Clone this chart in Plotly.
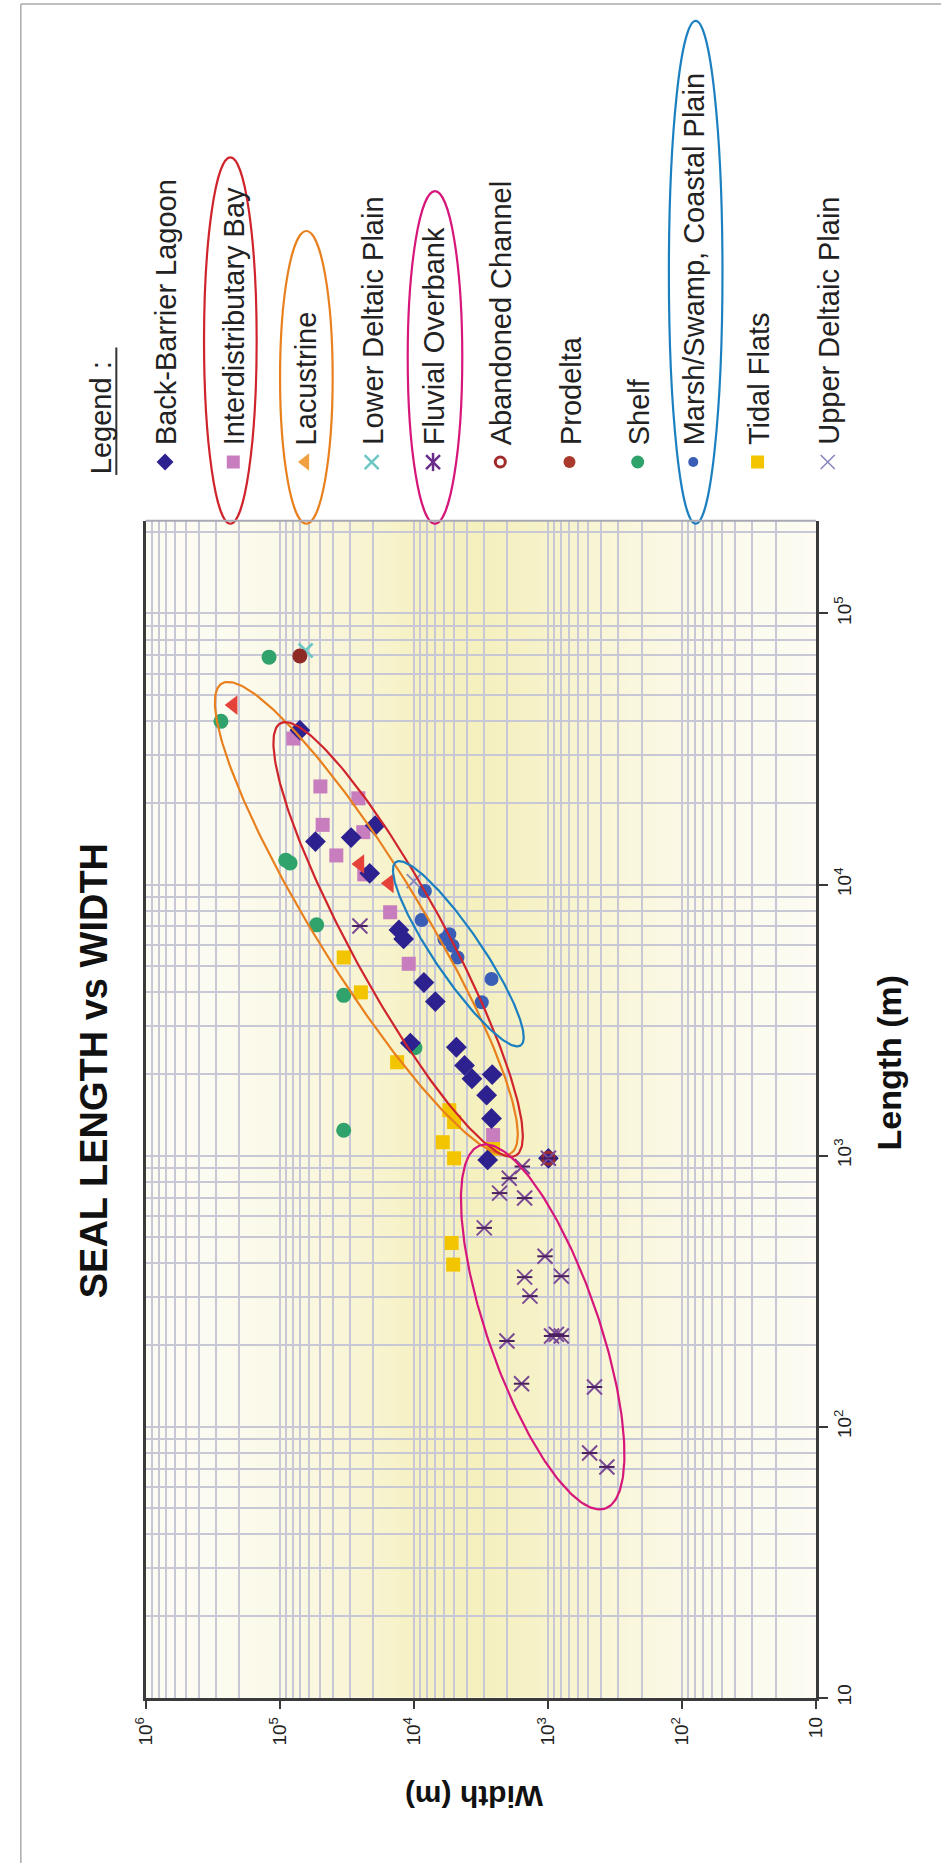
import numpy as np
import plotly.graph_objects as go

# ---------------- data ----------------
BBL_W = [7.07e4, 5.41e4, 2.93e4, 1.94e4, 2.13e4, 1.29e4, 1.19e4, 8.4e3, 6.9e3, 1.06e4,
         4.81e3, 4.18e3, 3.68e3, 2.60e3, 2.86e3, 2.63e3, 2.81e3, 9.9e2]
BBL_L = [3.71e4, 1.44e4, 1.49e4, 1.65e4, 1.10e4, 6.8e3, 6.3e3, 4.35e3, 3.7e3, 2.6e3,
         2.51e3, 2.15e3, 1.92e3, 1.99e3, 1.67e3, 1.37e3, 9.64e2, 9.77e2]

IB_W = [7.9e4, 4.97e4, 2.59e4, 4.78e4, 2.38e4, 3.78e4, 2.34e4, 1.50e4, 1.09e4, 2.56e3]
IB_L = [3.46e4, 2.3e4, 2.08e4, 1.66e4, 1.56e4, 1.28e4, 1.09e4, 7.9e3, 5.1e3, 1.19e3]

LAC_W = [2.22e5, 2.52e4, 1.52e4]
LAC_L = [4.59e4, 1.19e4, 1.01e4]

LDP_W = [6.4e4]
LDP_L = [7.3e4]

FO_W = [2.52e4, 1.55e3, 1.94e3, 2.29e3, 1.49e3, 2.98e3, 1.05e3, 1.49e3, 7.93e2, 1.36e3,
        2.02e3, 9.38e2, 8.63e2, 7.93e2, 1.57e3, 4.49e2, 4.88e2, 3.63e2, 9.9e2]
FO_L = [7.03e3, 9.11e2, 8.25e2, 7.27e2, 6.97e2, 5.41e2, 4.25e2, 3.56e2, 3.59e2, 3.03e2,
        2.07e2, 2.16e2, 2.19e2, 2.16e2, 1.44e2, 1.40e2, 7.99e1, 7.1e1, 9.77e2]

AC_W = [9.9e2]
AC_L = [9.77e2]

PD_W = [7.07e4]
PD_L = [6.97e4]

SH_W = [1.20e5, 2.74e5, 8.36e4, 9.0e4, 5.3e4, 3.33e4, 9.8e3, 3.33e4]
SH_L = [6.9e4, 4.0e4, 1.2e4, 1.23e4, 7.1e3, 3.9e3, 2.5e3, 1.24e3]

MS_W = [8.26e3, 8.73e3, 5.43e3, 5.14e3, 4.72e3, 5.9e3, 2.63e3, 3.11e3]
MS_L = [9.46e3, 7.4e3, 6.55e3, 5.94e3, 5.38e3, 6.28e3, 4.48e3, 3.68e3]

TF_W = [3.33e4, 2.48e4, 1.33e4, 5.43e3, 5.0e3, 6.08e3, 5.0e3, 2.56e3, 5.22e3, 5.08e3]
TF_L = [5.38e3, 4.0e3, 2.21e3, 1.47e3, 1.33e3, 1.12e3, 9.77e2, 1.06e3, 4.76e2, 3.96e2]

UDP_W = [1.0e4]
UDP_L = [1.03e4]

LEG_LABELS = ["Back-Barrier Lagoon", "Interdistributary Bay", "Lacustrine",
              "Lower Deltaic Plain", "Fluvial Overbank", "Abandoned Channel",
              "Prodelta", "Shelf", "Marsh/Swamp, Coastal Plain", "Tidal Flats",
              "Upper Deltaic Plain"]

TICK_VALS = [10, 1e2, 1e3, 1e4, 1e5, 1e6]
TICK_TEXT = ["10", "10<sup>2</sup>", "10<sup>3</sup>", "10<sup>4</sup>",
             "10<sup>5</sup>", "10<sup>6</sup>"]

# group ellipses: (width tip1, length tip1, width tip2, length tip2)
ELL_LAC = (2.71e5, 5.51e4, 1.88e3, 1.02e3)
ELL_IB = (9.89e4, 3.93e4, 1.73e3, 1.00e3)
ELL_MS = (1.36e4, 1.21e4, 1.59e3, 2.55e3)
ELL_FO = (3.21e3, 1.09e3, 3.72e2, 4.99e1)

# background tint profile across width
BG_LOGW = [1.0, 1.5, 2.0, 2.5, 3.0, 3.5, 4.0, 4.4, 5.0, 5.5, 6.0]
BG_LEVEL = [0.05, 0.12, 0.28, 0.5, 0.78, 1.0, 0.88, 0.62, 0.25, 0.08, 0.02]

# ---------------- layout geometry (pixels) ----------------
FIG_W, FIG_H = 942, 1863
P_L, P_R, P_T, P_B = 135, 823, 523, 1705     # plot area edges
PLOT_W = P_R - P_L
PLOT_H = P_B - P_T
X_RANGE = [6, 1]        # log10(width), reversed
Y_RANGE = [1, 5.342]    # log10(length)
FONT = "Liberation Sans, Arial, sans-serif"
GRID = "#C7C7D6"
AXC = "#3a3a3a"
DOM_X = [P_L / FIG_W, P_R / FIG_W]
DOM_Y = [1 - P_B / FIG_H, 1 - P_T / FIG_H]


def pxx(px):
    return px / FIG_W


def pxy(py):
    return 1 - py / FIG_H


def w_to_px(w):
    return P_L + (X_RANGE[0] - np.log10(w)) * PLOT_W / abs(X_RANGE[0] - X_RANGE[1])


fig = go.Figure()

# ---- background subplot (xy): pixel axes over the plot area ----
bg_x = [w_to_px(10 ** v) for v in BG_LOGW]
fig.add_trace(go.Heatmap(x=bg_x, y=[P_T, P_B], z=[BG_LEVEL, BG_LEVEL], zsmooth="best",
                         zmin=0, zmax=1, showscale=False, hoverinfo="skip",
                         colorscale=[[0, "rgb(253,252,245)"], [1, "rgb(245,240,190)"]],
                         xaxis="x", yaxis="y"))


# ---- data subplot (x2y2) ----
def sc(x, y, symbol, color, size, lw=0, lcolor=None):
    return go.Scatter(x=x, y=y, mode="markers", showlegend=False, hoverinfo="skip",
                      xaxis="x2", yaxis="y2",
                      marker=dict(symbol=symbol, color=color, size=size,
                                  line=dict(width=lw, color=lcolor or color)))


fig.add_trace(sc(LDP_W, LDP_L, "x-thin", "#6CC7C4", 14, 2.5))
fig.add_trace(sc(UDP_W, UDP_L, "x-thin", "#8585BB", 14, 1.8))
fig.add_trace(sc(SH_W, SH_L, "circle", "#2FA36B", 15))
fig.add_trace(sc(PD_W, PD_L, "circle", "#8E2A26", 15))
fig.add_trace(sc(TF_W, TF_L, "square", "#F3C400", 14))
fig.add_trace(sc(IB_W, IB_L, "square", "#C77DBE", 14))
fig.add_trace(sc(BBL_W, BBL_L, "diamond", "#2D2190", 16))
fig.add_trace(sc(MS_W, MS_L, "circle", "#3A5DB5", 14))
fig.add_trace(sc(LAC_W, LAC_L, "triangle-left", "#E5433A", 17))
fig.add_trace(sc(AC_W, AC_L, "circle-open", "#9E2A2A", 12, 3))
fig.add_trace(sc(FO_W, FO_L, "x-thin", "#7B4A94", 15, 2))
fig.add_trace(sc(FO_W, FO_L, "line-ew", "#4A2060", 11, 2))


def ellipse(tips, b_px, n=260):
    kx = PLOT_W / abs(X_RANGE[0] - X_RANGE[1])
    ky = PLOT_H / (Y_RANGE[1] - Y_RANGE[0])
    w1, l1, w2, l2 = tips
    p1 = np.array([(X_RANGE[0] - np.log10(w1)) * kx, (np.log10(l1) - Y_RANGE[0]) * ky])
    p2 = np.array([(X_RANGE[0] - np.log10(w2)) * kx, (np.log10(l2) - Y_RANGE[0]) * ky])
    c = (p1 + p2) / 2
    d = p2 - p1
    a = np.linalg.norm(d) / 2
    u = d / np.linalg.norm(d)
    v = np.array([-u[1], u[0]])
    t = np.linspace(0, 2 * np.pi, n)
    pts = c[:, None] + np.outer(u, a * np.cos(t)) + np.outer(v, b_px * np.sin(t))
    xs = 10 ** (X_RANGE[0] - pts[0] / kx)
    ys = 10 ** (Y_RANGE[0] + pts[1] / ky)
    return xs, ys


for tips, b, col in [(ELL_LAC, 54, "#E8801E"), (ELL_IB, 48, "#D0242C"),
                     (ELL_MS, 24, "#1C80C0"), (ELL_FO, 57, "#D6167A")]:
    ex, ey = ellipse(tips, b)
    fig.add_trace(go.Scatter(x=ex, y=ey, mode="lines", showlegend=False, hoverinfo="skip",
                             xaxis="x2", yaxis="y2", line=dict(color=col, width=2.2)))

# ---- legend subplot (x3y3): full-figure pixel axes ----
LEG_X = [155, 225, 299, 367, 430, 499, 570, 640, 697, 763, 835]
LEG_MARK_Y = 464
LEG_TEXT_Y = 449
leg_sym = ["diamond", "square", "triangle-left", "x-thin", "x-thin", "circle-open",
           "circle", "circle", "circle", "square", "x-thin"]
leg_col = ["#2D2190", "#C77DBE", "#F0A040", "#6CC7C4", "#6A2D8A", "#9E2A2A",
           "#A93A2C", "#2FA36B", "#3A5DB5", "#F3C400", "#8585BB"]
leg_size = [13, 13, 15, 14, 14, 10, 12, 13, 10, 13, 14]
leg_lw = [0, 0, 0, 2.5, 2.5, 3, 0, 0, 0, 0, 1.5]
for i in range(len(LEG_LABELS)):
    fig.add_trace(go.Scatter(x=[LEG_X[i]], y=[LEG_MARK_Y], xaxis="x3", yaxis="y3",
                             mode="markers", showlegend=False, hoverinfo="skip",
                             marker=dict(symbol=leg_sym[i], color=leg_col[i], size=leg_size[i],
                                         line=dict(width=leg_lw[i], color=leg_col[i]))))
fig.add_trace(go.Scatter(x=[LEG_X[4]], y=[LEG_MARK_Y], xaxis="x3", yaxis="y3",
                         mode="markers", showlegend=False, hoverinfo="skip",
                         marker=dict(symbol="line-ns", size=13,
                                     line=dict(width=2.5, color="#6A2D8A"))))

annotations = []
shapes = []
for i, lab in enumerate(LEG_LABELS):
    annotations.append(dict(text=lab, xref="paper", yref="paper", x=pxx(LEG_X[i] + 1),
                            y=pxy(LEG_TEXT_Y), xanchor="center", yanchor="bottom",
                            textangle=-90, showarrow=False,
                            font=dict(family=FONT, size=29, color="#222")))
annotations.append(dict(text="Legend :", xref="paper", yref="paper", x=pxx(90), y=pxy(478),
                        xanchor="center", yanchor="bottom", textangle=-90, showarrow=False,
                        font=dict(family=FONT, size=29, color="#222")))
shapes.append(dict(type="line", xref="paper", yref="paper", x0=pxx(105), x1=pxx(105),
                   y0=pxy(477), y1=pxy(349), line=dict(color="#333", width=2)))

for x0, x1, y0, y1, col in [(195, 249, 158, 526, "#D0242C"), (273, 327, 232, 526, "#E8801E"),
                            (404, 460, 192, 526, "#D6167A"), (672, 727, 21, 526, "#1C80C0")]:
    shapes.append(dict(type="circle", xref="paper", yref="paper", x0=pxx(x0), x1=pxx(x1),
                       y0=pxy(y1), y1=pxy(y0), line=dict(color=col, width=2.2)))

annotations.append(dict(text="<b>SEAL LENGTH vs WIDTH</b>", xref="paper", yref="paper",
                        x=pxx(82), y=pxy(1075), xanchor="center", yanchor="middle",
                        textangle=-90, showarrow=False,
                        font=dict(family=FONT, size=38, color="#111")))
annotations.append(dict(text="<b>Length (m)</b>", xref="paper", yref="paper",
                        x=pxx(898), y=pxy(1067), xanchor="center", yanchor="middle",
                        textangle=-90, showarrow=False,
                        font=dict(family=FONT, size=34, color="#111")))
annotations.append(dict(text="<b>Width (m)</b>", xref="paper", yref="paper",
                        x=pxx(472), y=pxy(1805), xanchor="center", yanchor="middle",
                        textangle=180, showarrow=False,
                        font=dict(family=FONT, size=30, color="#111")))

# plot top edge and page border
shapes.append(dict(type="line", xref="paper", yref="paper", x0=pxx(P_L), x1=pxx(P_R),
                   y0=pxy(P_T), y1=pxy(P_T), line=dict(color="#A8A8B4", width=2)))
shapes.append(dict(type="line", xref="paper", yref="paper", x0=pxx(7), x1=1.01,
                   y0=pxy(4), y1=pxy(4), line=dict(color="#AAAAAA", width=1.5)))
shapes.append(dict(type="line", xref="paper", yref="paper", x0=pxx(7), x1=pxx(7),
                   y0=pxy(4), y1=-0.01, line=dict(color="#AAAAAA", width=1.5)))

minor_vals = [m * 10 ** k for k in range(0, 6) for m in range(2, 10)]

axis_common = dict(type="log", tickmode="array", tickvals=TICK_VALS, ticktext=TICK_TEXT,
                   tickangle=-90, ticks="outside", ticklen=9, tickwidth=2, tickcolor=AXC,
                   showline=True, linecolor=AXC, linewidth=2.5,
                   showgrid=True, gridcolor=GRID, gridwidth=2, zeroline=False,
                   tickfont=dict(family=FONT, size=19, color="#222"),
                   minor=dict(tickvals=minor_vals, showgrid=True, gridcolor=GRID,
                              gridwidth=2, ticks=""))

hidden = dict(visible=False, showgrid=False, zeroline=False, fixedrange=True)

fig.update_layout(
    width=FIG_W, height=FIG_H,
    margin=dict(l=0, r=0, t=0, b=0, pad=0),
    paper_bgcolor="white", plot_bgcolor="rgba(0,0,0,0)",
    showlegend=False,
    xaxis=dict(domain=DOM_X, range=[P_L, P_R], anchor="y", **hidden),
    yaxis=dict(domain=DOM_Y, range=[P_B, P_T], anchor="x", **hidden),
    xaxis2=dict(domain=DOM_X, range=X_RANGE, side="bottom", anchor="y2", mirror=False,
                **axis_common),
    yaxis2=dict(domain=DOM_Y, range=Y_RANGE, side="right", anchor="x2", mirror=True,
                **axis_common),
    xaxis3=dict(domain=[0, 1], range=[0, FIG_W], anchor="y3", **hidden),
    yaxis3=dict(domain=[0, 1], range=[FIG_H, 0], anchor="x3", **hidden),
    shapes=shapes, annotations=annotations,
)

fig.write_html("out.html")
